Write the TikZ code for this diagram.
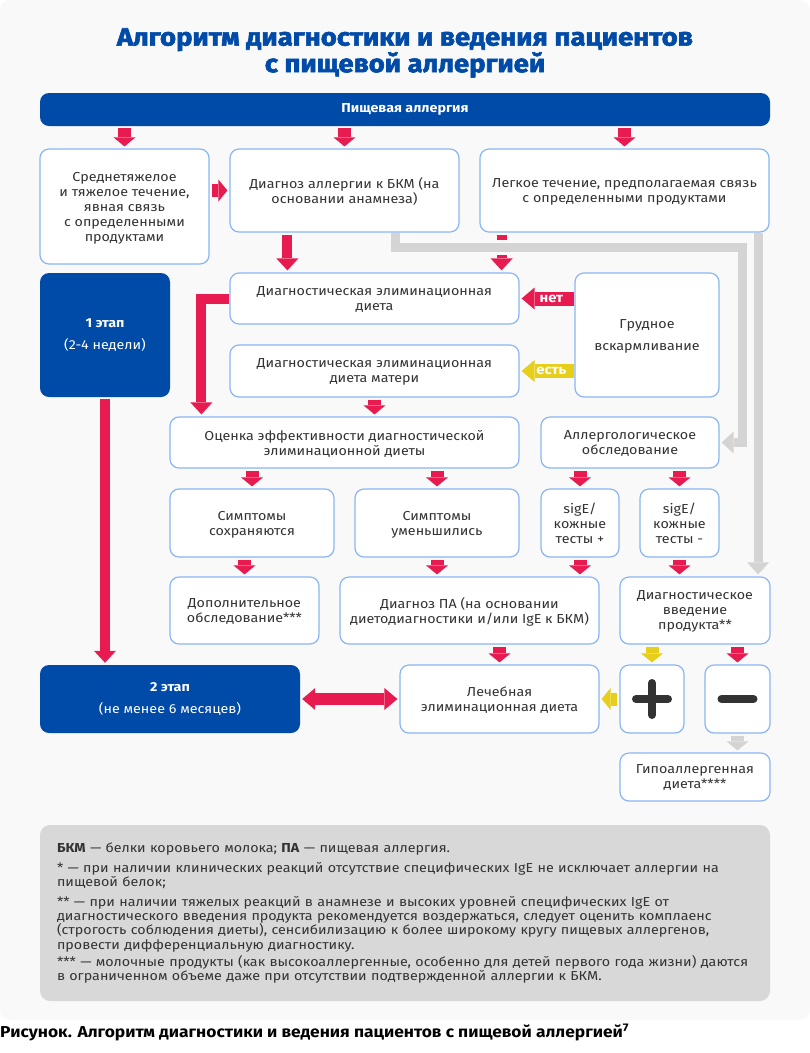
\documentclass[tikz,border=0pt]{standalone}
\usepackage{fontspec}
\setmainfont{Fira Sans}[FakeStretch=1.1]
\newfontfamily\titlefont{Fira Sans}[FakeBold=2.4, FakeStretch=1.1]
\usepackage{tikz}
\usetikzlibrary{arrows.meta}
\usepackage{xcolor}

\definecolor{blueD}{RGB}{0,74,168}
\definecolor{redA}{RGB}{232,27,80}
\definecolor{yellowA}{RGB}{230,206,26}
\definecolor{greyA}{RGB}{212,212,212}
\definecolor{borderA}{RGB}{138,182,245}
\definecolor{bgA}{RGB}{249,249,249}
\definecolor{noteA}{RGB}{216,216,216}
\definecolor{textA}{RGB}{51,51,51}

\newcommand{\boxfont}{\fontsize{13}{15}\selectfont}

\begin{document}
\begin{tikzpicture}[x=1pt, y=-1pt,
    box/.style={draw=borderA, line width=1.2pt, fill=white, rounded corners=9pt,
        align=center, text=textA, font=\boxfont, inner sep=0pt, text depth=0pt},
    stage/.style={fill=blueD, rounded corners=9pt, align=center, text=white,
        font=\boxfont, inner sep=0pt},
    sarr/.style={redA, line width=13pt, shorten <=2pt, shorten >=2pt,
        -{Triangle[width=22pt, length=9pt, line width=0pt]}},
    yarr/.style={sarr, yellowA},
    rlong/.style={redA, line width=10pt, shorten <=2pt, shorten >=2pt,
        -{Triangle[width=22pt, length=12pt, line width=0pt]}},
    garr/.style={greyA, line width=9pt, shorten >=2pt,
        -{Triangle[width=22pt, length=12pt, line width=0pt]}},
    rwide/.style={line width=14pt, shorten >=2pt,
        -{Triangle[width=22pt, length=13pt, line width=0pt]}},
    lbl/.style={text=white, font=\fontsize{13.5}{13.5}\selectfont\bfseries, inner sep=0pt},
    sign/.style={textA, line width=8pt, line cap=round}]
    \useasboundingbox (0,0) rectangle (810,1053);
    \fill[white] (0,0) rectangle (810,1053);
    \fill[bgA, rounded corners=10pt] (0,0) rectangle (810,1020);

    % title
    \node[align=center, text=blueD, font=\fontsize{25}{24}\selectfont\titlefont\bfseries] (title) at (405,53)
        {Алгоритм диагностики и ведения пациентов\\с пищевой аллергией};
    \node[stage, minimum width=730, minimum height=33, font=\boxfont\bfseries] (top) at (405,109.5) {Пищевая аллергия};

    % first row
    \node[box, minimum width=169, minimum height=115] (heavy) at (124.5,206.5)
        {Среднетяжелое\\и тяжелое течение,\\явная связь\\с определенными\\продуктами};
    \node[box, minimum width=229, minimum height=83] (bkm) at (344.5,190.5)
        {Диагноз аллергии к БКМ (на\\основании анамнеза)};
    \node[box, minimum width=289, minimum height=83] (mild) at (624.5,190.5)
        {Легкое течение, предполагаемая связь\\с определенными продуктами};

    % stage 1, diets
    \node[stage, minimum width=130, minimum height=124] (stage1) at (105,335)
        {\textbf{1 этап}\\[7pt](2-4 недели)};
    \node[box, minimum width=289, minimum height=51] (diet) at (374.5,298.5)
        {Диагностическая элиминационная\\диета};
    \node[box, minimum width=289, minimum height=52] (mother) at (374.5,371)
        {Диагностическая элиминационная\\диета матери};
    \node[box, minimum width=144, minimum height=124] (breast) at (647,335)
        {Грудное\\[7pt]вскармливание};

    % evaluation
    \node[box, minimum width=349, minimum height=51] (eval) at (344.5,442.5)
        {Оценка эффективности диагностической\\элиминационной диеты};
    \node[box, minimum width=178, minimum height=51] (exam) at (630,442.5)
        {Аллергологическое\\обследование};
    \node[box, minimum width=164, minimum height=68] (keep) at (252,523)
        {Симптомы\\сохраняются};
    \node[box, minimum width=164, minimum height=68] (less) at (437,523)
        {Симптомы\\уменьшились};
    \node[box, minimum width=78, minimum height=68] (pos) at (580,523)
        {sigE/\\кожные\\тесты +};
    \node[box, minimum width=79, minimum height=68] (neg) at (679.5,523)
        {sigE/\\кожные\\тесты -};
    \node[box, minimum width=149, minimum height=67] (extra) at (244.5,610.5)
        {Дополнительное\\обследование***};
    \node[box, minimum width=259, minimum height=67] (diag) at (469.5,610.5)
        {Диагноз ПА (на основании\\диетодиагностики и/или IgE к БКМ)};
    \node[box, minimum width=150, minimum height=67] (intro) at (695,610.5)
        {Диагностическое\\введение\\продукта**};

    % stage 2
    \node[stage, minimum width=260, minimum height=68] (stage2) at (170,699)
        {\textbf{2 этап}\\[7pt](не менее 6 месяцев)};
    \node[box, minimum width=199, minimum height=68] (cure) at (499.5,699)
        {Лечебная\\элиминационная диета};
    \node[box, minimum width=64, minimum height=68] (plus) at (652,699) {};
    \node[box, minimum width=65, minimum height=68] (minus) at (737.5,699) {};
    \node[box, minimum width=150, minimum height=48] (hypo) at (695,777)
        {Гипоаллергенная\\диета****};
    \draw[sign] ([xshift=-16pt]plus.center) -- ([xshift=16pt]plus.center);
    \draw[sign] ([yshift=-16pt]plus.center) -- ([yshift=16pt]plus.center);
    \draw[sign] ([xshift=-16pt]minus.center) -- ([xshift=16pt]minus.center);

    % arrows
    \draw[sarr] (top.south -| heavy.north) -- (heavy.north);
    \draw[sarr] (top.south -| bkm.north) -- (bkm.north);
    \draw[sarr] (top.south -| mild.north) -- (mild.north);
    \draw[sarr] (heavy.east |- bkm.west) -- (bkm.west);
    \draw[rlong] ([xshift=58pt]diet.north west |- bkm.south) -- ([xshift=58pt]diet.north west);
    \draw[rlong] ([xshift=-18pt]diet.north east |- mild.south) -- ([xshift=-18pt]diet.north east);
    \coordinate (gturn) at (742,247.5);
    \draw[garr, preaction={draw=bgA, line width=15pt, -}] ([xshift=50.5pt]bkm.south) |- (gturn) |- (exam.east);
    \draw[garr] ([xshift=-11.5pt]mild.south east) -- ([xshift=-11.5pt]mild.south east |- intro.north);
    \draw[rwide, redA] (breast.west |- diet.east) -- node[lbl, pos=0.42] {нет} (diet.east);
    \draw[rwide, yellowA] (breast.west |- mother.east) -- node[lbl, pos=0.42] {есть} (mother.east);
    \draw[rlong, shorten <=0pt] (diet.west) -| ([xshift=32pt]eval.north west);
    \draw[sarr] (mother.south) -- (mother.south |- eval.north);
    \draw[rlong] (stage1.south) -- (stage1.south |- stage2.north);
    \draw[sarr] (keep.north |- eval.south) -- (keep.north);
    \draw[sarr] (less.north |- eval.south) -- (less.north);
    \draw[sarr] (pos.north |- exam.south) -- (pos.north);
    \draw[sarr] (neg.north |- exam.south) -- (neg.north);
    \draw[sarr] (extra.north |- keep.south) -- (extra.north);
    \draw[sarr] (less.south) -- (less.south |- diag.north);
    \draw[sarr] (pos.south) -- (pos.south |- diag.north);
    \draw[sarr] (neg.south) -- (neg.south |- intro.north);
    \draw[sarr] (cure.north |- diag.south) -- (cure.north);
    \draw[yarr] (plus.north |- intro.south) -- (plus.north);
    \draw[sarr] (minus.north |- intro.south) -- (minus.north);
    \draw[yarr] (plus.west) -- (cure.east);
    \draw[sarr, greyA] (minus.south) -- (minus.south |- hypo.north);
    \draw[redA, line width=12pt, shorten <=2pt, shorten >=2pt,
        {Triangle[width=22pt, length=13pt, line width=0pt]}-{Triangle[width=22pt, length=13pt, line width=0pt]}]
        (stage2.east) -- (cure.west);

    % notes
    \node[fill=noteA, rounded corners=10pt, minimum width=730, minimum height=176,
        text width=696, inner xsep=17pt, align=left, text=textA,
        font=\fontsize{13}{14.3}\selectfont] (note) at (405,913)
        {\textbf{БКМ} — белки коровьего молока; \textbf{ПА} — пищевая аллергия.\\[6pt]
        * — при наличии клинических реакций отсутствие специфических IgE не исключает аллергии на\\
        пищевой белок;\\[5pt]
        ** — при наличии тяжелых реакций в анамнезе и высоких уровней специфических IgE от\\
        диагностического введения продукта рекомендуется воздержаться, следует оценить комплаенс\\
        (строгость соблюдения диеты), сенсибилизацию к более широкому кругу пищевых аллергенов,\\
        провести дифференциальную диагностику.\\[3pt]
        *** — молочные продукты (как высокоаллергенные, особенно для детей первого года жизни) даются\\
        в ограниченном объеме даже при отсутствии подтвержденной аллергии к БКМ.};
    \node[anchor=base west, inner sep=0pt, text=black, font=\fontsize{15.8}{16}\selectfont\bfseries] (caption) at (0,1037)
        {Рисунок. Алгоритм диагностики и ведения пациентов с пищевой аллергией\textsuperscript{7}};
\end{tikzpicture}
\end{document}
